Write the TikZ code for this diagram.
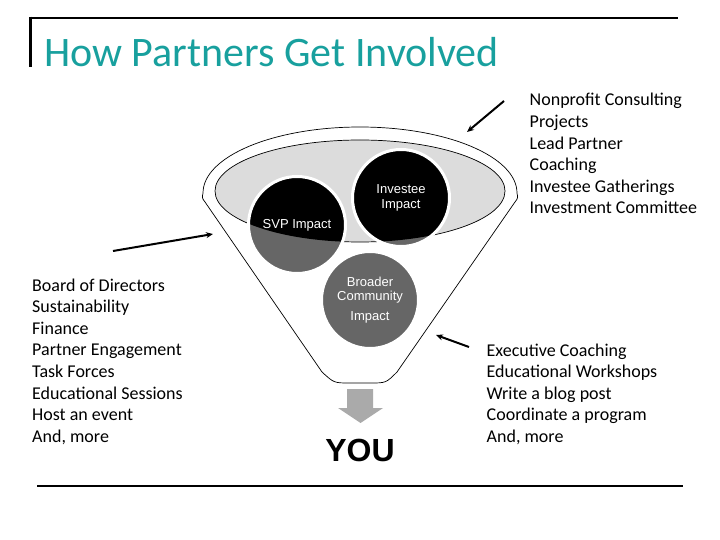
\documentclass[tikz,border=0pt]{standalone}
\usepackage{fontspec}
\setmainfont{Carlito}
\newfontfamily\arialf{Liberation Sans}
\usetikzlibrary{arrows.meta,shapes.geometric}
\definecolor{titleteal}{RGB}{24,160,158}
\definecolor{ellgray}{RGB}{220,220,220}
\definecolor{circgray}{RGB}{102,102,102}
\definecolor{arrgray}{RGB}{170,170,170}
\tikzset{
  rule/.style={line width=2.8pt},
  listtext/.style={anchor=base west, inner sep=0pt, align=left, font=\fontsize{18}{21.6}\selectfont},
  impact/.style={circle, minimum size=97pt, inner sep=0pt, fill=circgray, draw=white, line width=3pt, text=white,
    align=center, font=\arialf\fontsize{13}{14.5}\selectfont,
    path picture={\fill[black] (inner.center) ellipse [x radius=145, y radius=51];}},
  pointer/.style={line width=2pt, -{Stealth[length=7pt,width=6pt]}},
}
\begin{document}
\begin{tikzpicture}[x=1pt,y=-1pt]
\useasboundingbox (0,0) rectangle (720,540);
% frame lines
\draw[rule] (29.6,18) -- (678,18);
\draw[rule] (30.6,16.6) -- (30.6,67);
\draw[rule] (37,486) -- (683,486);
% title
\node[anchor=base west, inner sep=0pt, text=titleteal, font=\fontsize{42}{48}\selectfont] (title) at (44,66.7) {How Partners Get Involved};
% funnel
\draw[line width=0.7pt, fill=white] (205,202) -- (322,372) .. controls (334,383) .. (350,383) -- (370,383) .. controls (386,383) .. (397,372) -- (515,202) .. controls (518,198) .. (517,193)
  arc[start angle=0, end angle=-180, x radius=157, y radius=66] .. controls (202,198) .. (205,202) -- cycle;
\node[ellipse, minimum width=290pt, minimum height=102pt, inner sep=0pt, fill=ellgray, draw=black, line width=0.7pt] (inner) at (360,191) {};
% circles
\node[impact] (svp) at (297,225) {SVP Impact};
\node[impact] (inv) at (401,198) {Investee\\Impact};
\node[impact] (broad) at (370,300) {Broader\\Community\\[5pt]Impact};
% down arrow
\fill[arrgray] (347,389) -- (373,389) -- (373,408) -- (383,408) -- (360.5,423) -- (338,408) -- (347,408) -- cycle;
\node[font=\arialf\bfseries\fontsize{32}{36}\selectfont, inner sep=0pt] (you) at (360,450) {YOU};
% lists (anchored at the baseline of the last line)
\node[listtext] (leftlist) at (32,442.2) {Board of Directors\\Sustainability\\Finance\\Partner Engagement\\Task Forces\\Educational Sessions\\Host an event\\And, more};
\node[listtext] (toplist) at (529.5,214) {Nonprofit Consulting\\Projects\\Lead Partner\\Coaching\\Investee Gatherings\\Investment Committee};
\node[listtext] (botlist) at (486.5,442.4) {Executive Coaching\\Educational Workshops\\Write a blog post\\Coordinate a program\\And, more};
% pointers
\coordinate (a1s) at (504,101);
\coordinate (a1e) at (467,132);
\coordinate (a2s) at (113,251);
\coordinate (a2e) at (213,234);
\coordinate (a3s) at (469,347);
\coordinate (a3e) at (436,335);
\draw[pointer] (a1s) -- (a1e);
\draw[pointer] (a2s) -- (a2e);
\draw[pointer] (a3s) -- (a3e);
\end{tikzpicture}
\end{document}
